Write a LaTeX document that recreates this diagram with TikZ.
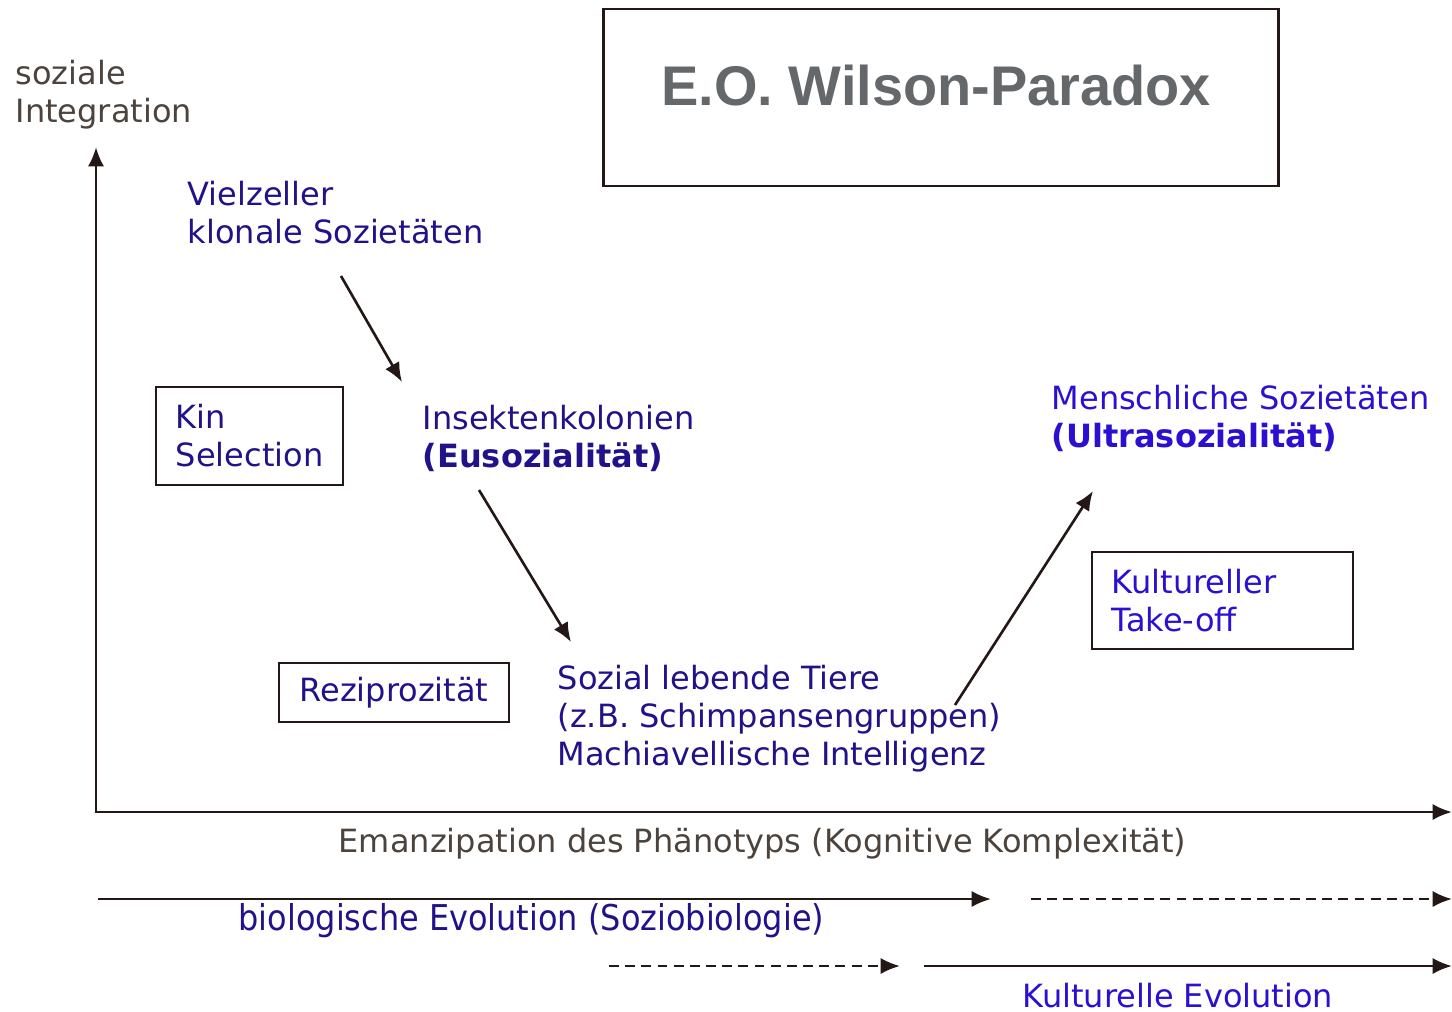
\documentclass[tikz,border=0pt]{standalone}
\usepackage{fontspec}
\setmainfont{DejaVu Sans}
\newfontfamily\titelfont{Liberation Sans}
\newfontfamily\schmalfont{DejaVu Sans Condensed}
\usetikzlibrary{arrows.meta}
\definecolor{dunkelblau}{HTML}{21128A}
\definecolor{hellblau}{HTML}{2B10D2}
\definecolor{achsgrau}{HTML}{4C433D}
\definecolor{titelgrau}{HTML}{65686B}
\definecolor{strich}{HTML}{231815}
\tikzset{
  txt/.style={anchor=base west,inner sep=0pt,align=left,
    font=\fontsize{9.1}{10.8}\selectfont},
  kasten/.style={draw=strich,line width=0.75pt,inner sep=0pt,align=left,
    font=\fontsize{9.1}{10.8}\selectfont},
  pfeil/.style={-{Latex[length=5.5pt,width=4.6pt]},draw=strich,line width=0.75pt},
  achse/.style={-{Latex[length=5.5pt,width=4.6pt]},draw=strich,line width=0.8pt},
  strichlinie/.style={dash pattern=on 2.8pt off 1.8pt}
}

\begin{document}
\begin{tikzpicture}[x=0.01cm,y=-0.01cm]
 \useasboundingbox (0,0) rectangle (1452,1011);
 % titel
 \node[draw=strich,line width=0.8pt,minimum width=6.74cm,minimum height=1.77cm]
   (titelbox) at (941,97.5) {};
 \node[text=titelgrau,inner sep=0pt,font=\titelfont\bfseries\fontsize{15.9}{18}\selectfont]
   (titel) at (936,86) {E.O. Wilson-Paradox};
 % achsen
 \coordinate (ursprung) at (96,812);
 \coordinate (yende) at (96,147);
 \coordinate (xende) at (1452,812);
 \draw[achse] (ursprung) -- (yende);
 \draw[achse] (95,812) -- (xende);
 \node[txt,text=achsgrau] (ylabel) at (15,122) {soziale\\Integration};
 \node[txt,text=achsgrau] (xlabel) at (338,852)
   {Emanzipation des Phänotyps (Kognitive Komplexität)};
 % stufen
 \node[txt,text=dunkelblau] (vielzeller) at (187,243) {Vielzeller\\klonale Sozietäten};
 \node[txt,text=dunkelblau] (insekten) at (422,467)
   {Insektenkolonien\\\textbf{(Eusozialität)}};
 \node[txt,text=dunkelblau] (tiere) at (557,765)
   {Sozial lebende Tiere\\(z.B. Schimpansengruppen)\\Machiavellische Intelligenz};
 \node[txt,text=hellblau] (menschen) at (1051,447)
   {Menschliche Sozietäten\\\textbf{(Ultrasozialität)}};
 % kaesten
 \node[kasten,text=dunkelblau,minimum width=1.87cm,minimum height=0.98cm,
   text width=1.47cm] (kin) at (249.5,436) {Kin\\Selection};
 \node[kasten,text=dunkelblau,minimum width=2.30cm,minimum height=0.59cm]
   (rezi) at (394,692.5) {Reziprozität};
 \node[kasten,text=hellblau,minimum width=2.61cm,minimum height=0.97cm,
   text width=2.21cm] (takeoff) at (1222.5,600.5) {Kultureller\\Take-off};
 % pfeile zwischen den stufen
 \coordinate (vielzeller-aus) at (341,276);
 \coordinate (insekten-ein) at (402,382);
 \coordinate (insekten-aus) at (479,490);
 \coordinate (tiere-ein) at (571,642);
 \coordinate (tiere-aus) at (955,705);
 \coordinate (menschen-ein) at (1093,491);
 \draw[pfeil] (vielzeller-aus) -- (insekten-ein);
 \draw[pfeil] (insekten-aus) -- (tiere-ein);
 \draw[pfeil] (tiere-aus) -- (menschen-ein);
 % evolution
 \coordinate (bio-start) at (98,899);
 \coordinate (bio-ende) at (991,899);
 \coordinate (bio-weiter) at (1031,899);
 \coordinate (bio-rand) at (1452,899);
 \coordinate (kult-start) at (609,966);
 \coordinate (kult-mitte) at (900,966);
 \coordinate (kult-weiter) at (924,966);
 \coordinate (kult-rand) at (1452,966);
 \draw[pfeil] (bio-start) -- (bio-ende);
 \draw[pfeil,strichlinie] (bio-weiter) -- (bio-rand);
 \draw[pfeil,strichlinie] (kult-start) -- (kult-mitte);
 \draw[pfeil] (kult-weiter) -- (kult-rand);
 \node[txt,text=dunkelblau,font=\schmalfont\fontsize{10.1}{12}\selectfont]
   (bio) at (238,930) {biologische Evolution (Soziobiologie)};
 \node[txt,text=hellblau] (kult) at (1022,1007) {Kulturelle Evolution};
\end{tikzpicture}
\end{document}
